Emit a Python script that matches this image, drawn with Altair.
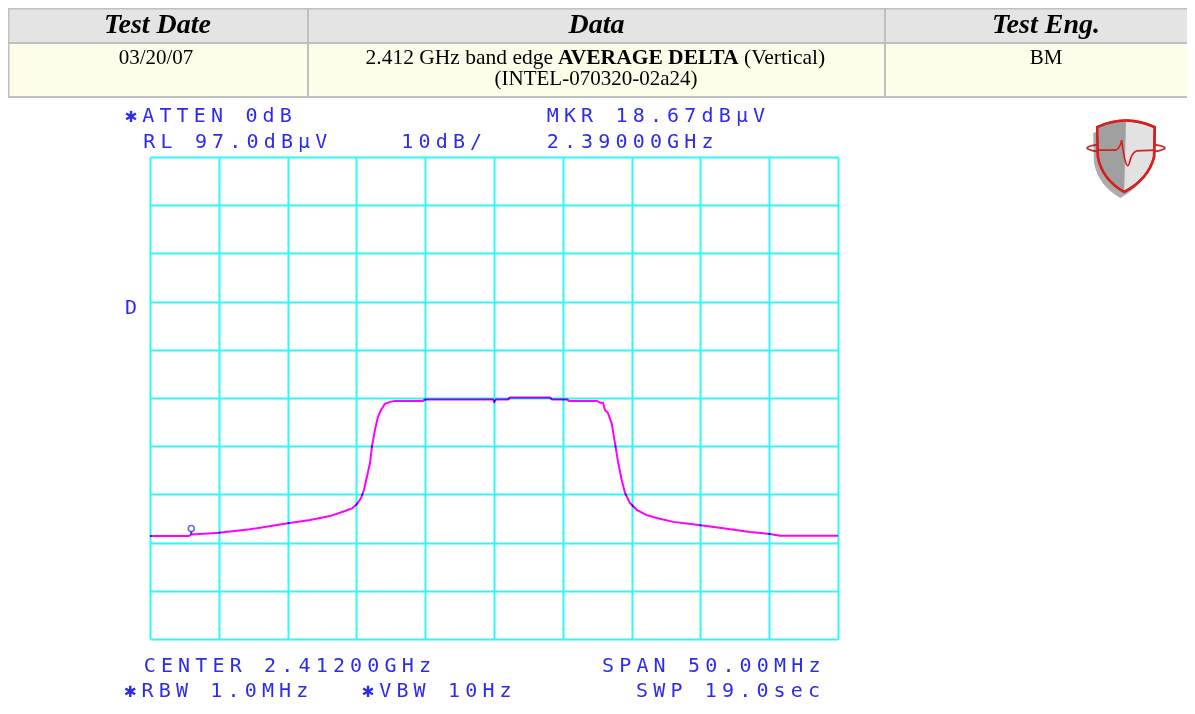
import altair as alt
import pandas as pd

# ---------------- data ----------------
freq_ghz = [2.3870, 2.38983, 2.39000, 2.39124, 2.39201, 2.39427, 2.39701, 2.39863, 2.40008, 2.40117,
            2.40168, 2.40204, 2.40233, 2.40255, 2.40277, 2.40299, 2.40313, 2.40335, 2.40357, 2.40379,
            2.40408, 2.40444, 2.40481, 2.40684, 2.40699, 2.41193, 2.41202, 2.41215, 2.41302, 2.41316,
            2.41607, 2.41622, 2.41731, 2.41745, 2.41949, 2.41971, 2.41992, 2.42007, 2.42028, 2.42055,
            2.42079, 2.42103, 2.42128, 2.42152, 2.42188, 2.42237, 2.42310, 2.42382, 2.42503, 2.42673,
            2.42866, 2.43060, 2.43206, 2.43278, 2.43700]
level_dbuv = [18.37, 18.37, 18.70, 18.90, 19.05, 19.76, 21.0, 21.7, 22.5, 23.56,
              24.1, 25.0, 26.2, 27.9, 30.7, 33.5, 36.9, 40.4, 43.1, 44.5,
              45.8, 46.2, 46.4, 46.4, 46.7, 46.7, 46.2, 46.7, 46.7, 47.1,
              47.1, 46.7, 46.7, 46.4, 46.4, 46.0, 46.0, 44.5, 43.9, 41.8,
              37.7, 33.5, 30.0, 27.3, 25.2, 23.8, 22.7, 22.1, 21.3, 20.7,
              20.0, 19.2, 18.8, 18.4, 18.4]
marker_freq = [2.390]
marker_level = [18.67]

x_grid = [2.387, 2.392, 2.397, 2.402, 2.407, 2.412, 2.417, 2.422, 2.427, 2.432, 2.437]
y_grid = [-3, 7, 17, 27, 37, 47, 57, 67, 77, 87, 97]

headers = ["Test Date", "Data", "Test Eng."]
row_date = "03/20/07"
row_data_1 = ["2.412 GHz band edge", "AVERAGE DELTA", "(Vertical)"]
row_data_2 = "(INTEL-070320-02a24)"
row_eng = "BM"

analyzer_text = ["\u2731ATTEN 0dB", "RL 97.0dB\u00b5V    10dB/", "MKR 18.67dB\u00b5V", "2.39000GHz", "D",
                 "CENTER 2.41200GHz", "SPAN 50.00MHz", "\u2731RBW 1.0MHz", "\u2731VBW 10Hz", "SWP 19.0sec"]

# ---------------- layout (page pixels) ----------------
OX, OY = 150, 157          # page position of plot origin
W, H = 688, 482
def px(x): return x - OX
def py(y): return y - OY

text_layout = [(125, 121.7), (143.3, 148), (546.7, 121.7), (546.7, 148), (125, 314.3),
               (143.7, 671.7), (602, 671.7), (124.3, 696.7), (362, 696.7), (636, 696.7)]
PITCH = 17.2

rows = []
for s, (lx, by) in zip(analyzer_text, text_layout):
    for i, ch in enumerate(s):
        if ch == " ":
            continue
        rows.append({"cx": px(lx + 6 + PITCH * i), "cy": py(by), "ch": ch})
chars = pd.DataFrame(rows)

trace = pd.DataFrame({"freq": freq_ghz, "level": level_dbuv})
marker = pd.DataFrame({"freq": marker_freq, "level": marker_level})
one = alt.Data(values=[{}])

GRID = "#2ef8f8"
BLUE = "#2b2bf2"
BORDER = "#c0c0c0"

xs = alt.Scale(domain=[2.387, 2.437], nice=False, zero=False)
ys = alt.Scale(domain=[-3, 97], nice=False, zero=False)

base = alt.Chart(trace).mark_line(color="#ff00ff", strokeWidth=2, blend="multiply").encode(
    x=alt.X("freq:Q", scale=xs,
            axis=alt.Axis(values=x_grid, grid=True, labels=False, ticks=False, domain=False,
                          title=None, gridColor=GRID, gridWidth=2, gridOpacity=1)),
    y=alt.Y("level:Q", scale=ys,
            axis=alt.Axis(values=y_grid, grid=True, labels=False, ticks=False, domain=False,
                          title=None, gridColor=GRID, gridWidth=2, gridOpacity=1)),
)

mk_circle = alt.Chart(marker).mark_point(shape="circle", size=36, filled=False, color=BLUE,
                                         strokeWidth=1.6, yOffset=-6).encode(
    x=alt.X("freq:Q", scale=xs, axis=None), y=alt.Y("level:Q", scale=ys, axis=None))
mk_stem = alt.Chart(marker).mark_rule(color=BLUE, strokeWidth=2, y2Offset=-3).encode(
    x=alt.X("freq:Q", scale=xs, axis=None), y=alt.Y("level:Q", scale=ys, axis=None), y2="level:Q")

an_text = alt.Chart(chars).mark_text(font="DejaVu Sans Mono", fontSize=20, color=BLUE,
                                     align="center", baseline="alphabetic").encode(
    x=alt.X("cx:Q", scale=None, axis=None),
    y=alt.Y("cy:Q", scale=None, axis=None),
    text="ch:N")

def rect(x1, x2, y1, y2, fill):
    return alt.Chart(one).mark_rect(color=fill).encode(
        x=alt.value(px(x1)), x2=alt.value(px(x2)), y=alt.value(py(y1)), y2=alt.value(py(y2)))

def hrule(y, x1, x2):
    return alt.Chart(one).mark_rule(color=BORDER, strokeWidth=2).encode(
        x=alt.value(px(x1)), x2=alt.value(px(x2)), y=alt.value(py(y)))

def vrule(x, y1, y2):
    return alt.Chart(one).mark_rule(color=BORDER, strokeWidth=2).encode(
        x=alt.value(px(x)), y=alt.value(py(y1)), y2=alt.value(py(y2)))

def txt(s, x, y, size, bold=False, italic=False, align="center"):
    return alt.Chart(one).mark_text(font="Liberation Serif", fontSize=size,
                                    fontWeight="bold" if bold else "normal",
                                    fontStyle="italic" if italic else "normal",
                                    color="black", align=align, baseline="alphabetic").encode(
        x=alt.value(px(x)), y=alt.value(py(y)), text=alt.value(s))

table = [
    rect(8, 1187, 8, 43, "#e4e4e4"),
    rect(8, 1187, 43, 97, "#fefde9"),
    hrule(8.5, 8, 1187), hrule(43, 8, 1187), hrule(97, 8, 1187),
    vrule(8.5, 8, 98), vrule(308, 8, 98), vrule(885, 8, 98),
    txt(headers[0], 157.5, 33.3, 28, True, True),
    txt(headers[1], 596.5, 33.3, 28, True, True),
    txt(headers[2], 1046, 33.3, 28, True, True),
    txt(row_date, 156, 64, 21),
    txt(row_data_1[0], 553, 64, 21.5, align="right"),
    txt(row_data_1[1], 558, 64, 21.5, bold=True, align="left"),
    txt(row_data_1[2], 744, 64, 21.5, align="left"),
    txt(row_data_2, 596, 85, 21),
    txt(row_eng, 1046, 64, 21),
]

# logo (shield) at page (1126,157)
LX, LY = px(1126), py(157)
shield = "M-0.8,-0.83 Q0,-1.2 0.8,-0.83 L0.78,0 Q0.62,0.62 -0.05,0.97 Q-0.66,0.62 -0.78,0 Z"
left_half = "M-0.8,-0.83 Q-0.4,-1.0 0,-1.03 L-0.05,0.97 Q-0.66,0.62 -0.78,0 Z"
ring = "M-1.08,-0.25 A1.08,0.14 0 1,0 1.08,-0.25 A1.08,0.14 0 1,0 -1.08,-0.25 Z"
wave = "M-0.8,-0.19 L-0.3,-0.19 Q-0.18,-0.2 -0.12,-0.47 Q0.0,0.45 0.09,0.18 Q0.15,-0.12 0.3,-0.17 L0.8,-0.19"

def sym(path, fill, stroke, sw, filled=True, dx=0, dy=0, opacity=1):
    kw = dict(shape=path, size=5184, strokeWidth=sw, opacity=opacity)
    if filled:
        kw.update(filled=True, fill=fill, fillOpacity=1)
        if stroke:
            kw.update(stroke=stroke)
        else:
            kw.update(strokeOpacity=0)
    else:
        kw.update(filled=False, stroke=stroke, fillOpacity=0)
    return alt.Chart(one).mark_point(**kw).encode(x=alt.value(LX + dx), y=alt.value(LY + dy))

logo = [
    sym(ring, None, "#d42a2a", 2, filled=False),
    sym(shield, "#444444", None, 0, dx=-4, dy=6, opacity=0.45),
    sym(shield, "#e2e2e2", "#d42020", 2.5),
    sym(left_half, "#a0a0a0", None, 0),
    sym(shield, None, "#d42020", 2.5, filled=False),
    sym(wave, None, "#d42020", 1.6, filled=False),
]

chart = alt.layer(*table, base, mk_stem, mk_circle, an_text, *logo).resolve_scale(
    x="independent", y="independent"
).properties(
    width=W, height=H,
    autosize=alt.AutoSizeParams(type="none"),
    padding={"left": 142, "top": 149, "right": 349, "bottom": 67},
    background="white",
).configure_view(stroke=None)

chart.save("out.html", embed_options={"renderer": "svg", "actions": False})
